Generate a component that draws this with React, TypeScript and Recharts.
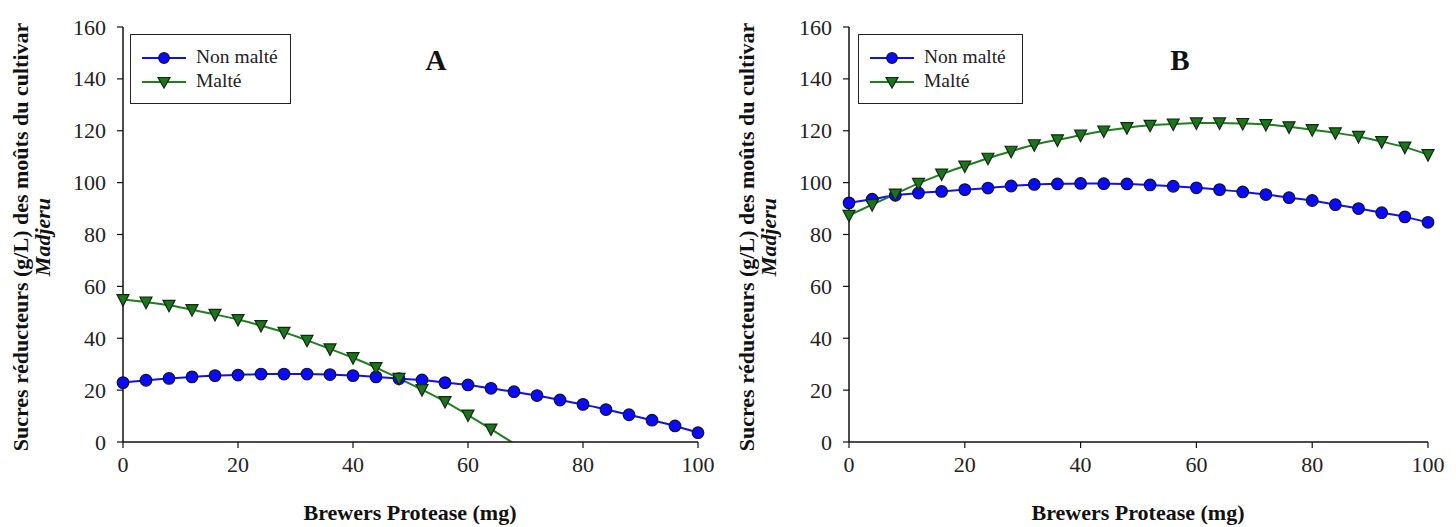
import React from "react";
import { LineChart, Line, XAxis, YAxis } from "recharts";

const doses = [0, 4, 8, 12, 16, 20, 24, 28, 32, 36, 40, 44, 48, 52, 56, 60, 64, 68, 72, 76, 80, 84, 88, 92, 96, 100];

const nonMalteA = [22.9, 23.8, 24.5, 25.1, 25.6, 25.8, 26.2, 26.2, 26.2, 26.0, 25.6, 25.1, 24.4, 23.9, 22.9, 22.0, 20.7, 19.4, 17.9, 16.2, 14.5, 12.5, 10.5, 8.4, 6.2, 3.6];
const malteA: (number | null)[] = [54.9, 53.9, 52.7, 51.0, 49.2, 47.2, 44.9, 42.3, 39.2, 35.9, 32.5, 28.7, 24.5, 20.2, 15.6, 10.4, 5.0, -0.6, null, null, null, null, null, null, null, null];

const nonMalteB = [92.2, 93.6, 95.1, 96.0, 96.6, 97.3, 97.9, 98.7, 99.3, 99.5, 99.7, 99.6, 99.5, 99.1, 98.6, 98.0, 97.3, 96.4, 95.4, 94.2, 93.1, 91.5, 90.0, 88.4, 86.8, 84.7];
const malteB = [87.4, 91.5, 95.6, 99.7, 103.3, 106.4, 109.4, 112.1, 114.6, 116.5, 118.3, 119.9, 121.2, 122.1, 122.6, 123.0, 123.0, 122.8, 122.4, 121.5, 120.4, 119.2, 117.8, 115.8, 113.7, 110.8];

const yTicks = [0, 20, 40, 60, 80, 100, 120, 140, 160];
const xTicks = [0, 20, 40, 60, 80, 100];

const seriesNames = ["Non malté", "Malté"];
const yLabelMain = "Sucres réducteurs (g/L) des moûts du cultivar";
const yLabelItalic = "Madjeru";
const xLabel = "Brewers Protease (mg)";

const BLUE_LINE = "#1010f0";
const BLUE_FILL = "#0a0aff";
const GREEN_LINE = "#1f7f1f";
const GREEN_FILL = "#1c741c";
const DARK = "#101010";
const FONT = "Liberation Serif";

const buildRows = (a: (number | null)[], b: (number | null)[]) =>
  doses.map((x, i) => ({ x, non: a[i], malte: b[i] }));

const CircleDot = (props: any) => {
  const { cx, cy, payload, index } = props;
  if (cx == null || cy == null || payload?.non == null) return <g key={`c${index}`} />;
  return <circle key={`c${index}`} cx={cx} cy={cy} r={5.8} fill={BLUE_FILL} stroke="#111133" strokeWidth={1.2} />;
};

const TriDot = (props: any) => {
  const { cx, cy, payload, index } = props;
  if (cx == null || cy == null || payload?.malte == null || payload.malte < 0) return <g key={`t${index}`} />;
  const w = 6;
  const h = 5.5;
  return (
    <path
      key={`t${index}`}
      d={`M${cx - w},${cy - h + 0.5} L${cx + w},${cy - h + 0.5} L${cx},${cy + h + 1} Z`}
      fill={GREEN_FILL}
      stroke="#0f2a0f"
      strokeWidth={1.2}
    />
  );
};

const XTick = (props: any) => {
  const { x, y, payload } = props;
  return (
    <text x={x} y={y + 20} textAnchor="middle" fontFamily={FONT} fontSize={22} fill="#222">
      {payload.value}
    </text>
  );
};

const YTick = (props: any) => {
  const { x, y, payload } = props;
  return (
    <text x={x} y={y + 7.5} textAnchor="end" fontFamily={FONT} fontSize={22} fill="#222">
      {payload.value}
    </text>
  );
};

const LegendBox = ({ left, top, width }: { left: number; top: number; width: number }) => (
  <div
    style={{
      position: "absolute",
      left,
      top,
      width,
      height: 70,
      border: "1.5px solid #222",
      boxSizing: "border-box",
      background: "#fff",
      fontFamily: FONT,
      fontSize: 19.5,
      color: "#222",
    }}
  >
    <svg width={60} height={70} style={{ position: "absolute", left: 0, top: 0 }}>
      <line x1={11} x2={55} y1={23} y2={23} stroke={BLUE_LINE} strokeWidth={2} />
      <circle cx={33} cy={23} r={5.3} fill={BLUE_FILL} stroke="#111133" strokeWidth={1.2} />
      <line x1={11} x2={55} y1={47} y2={47} stroke={GREEN_LINE} strokeWidth={2} />
      <path d="M27,42.5 L39,42.5 L33,53 Z" fill={GREEN_FILL} stroke="#0f2a0f" strokeWidth={1.2} />
    </svg>
    <div style={{ position: "absolute", left: 65, top: 11, lineHeight: "22px" }}>{seriesNames[0]}</div>
    <div style={{ position: "absolute", left: 65, top: 35, lineHeight: "22px" }}>{seriesNames[1]}</div>
  </div>
);

const YLabel = ({ cx, cy }: { cx: number; cy: number }) => (
  <div
    style={{
      position: "absolute",
      left: cx,
      top: cy,
      transform: "translate(-50%, -50%) rotate(-90deg)",
      whiteSpace: "nowrap",
      textAlign: "center",
      fontFamily: FONT,
      fontWeight: "bold",
      fontSize: 22,
      lineHeight: "22px",
      color: "#111",
    }}
  >
    <div>{yLabelMain}</div>
    <div style={{ fontStyle: "italic" }}>{yLabelItalic}</div>
  </div>
);

const Panel = ({
  left,
  rows,
  yAxisWidth,
  rightMargin,
  letter,
  letterX,
  legendLeft,
  legendWidth,
  labelCx,
  plotCenter,
}: any) => {
  return (
    <div style={{ position: "absolute", left, top: 0, width: 728, height: 527 }}>
      <LineChart
        width={728}
        height={527}
        data={rows}
        margin={{ top: 27, right: rightMargin, left: 0, bottom: 55 }}
      >
        <XAxis
          dataKey="x"
          type="number"
          domain={[0, 100]}
          ticks={xTicks}
          height={30}
          axisLine={{ stroke: DARK, strokeWidth: 1.5 }}
          tickLine={{ stroke: DARK, strokeWidth: 1.2 }}
          tickSize={6}
          tickMargin={4}
          tick={<XTick />}
          interval={0}
        />
        <YAxis
          type="number"
          domain={[0, 160]}
          ticks={yTicks}
          allowDataOverflow
          width={yAxisWidth}
          axisLine={{ stroke: DARK, strokeWidth: 1.5 }}
          tickLine={{ stroke: DARK, strokeWidth: 1.2 }}
          tickSize={6}
          tickMargin={11}
          tick={<YTick />}
          interval={0}
        />
        <Line
          type="monotone"
          dataKey="non"
          stroke={BLUE_LINE}
          strokeWidth={2}
          dot={CircleDot}
          isAnimationActive={false}
          connectNulls={false}
        />
        <Line
          type="monotone"
          dataKey="malte"
          stroke={GREEN_LINE}
          strokeWidth={2}
          dot={TriDot}
          isAnimationActive={false}
          connectNulls={false}
        />
      </LineChart>
      <LegendBox left={legendLeft} top={34} width={legendWidth} />
      <div
        style={{
          position: "absolute",
          left: letterX,
          top: 60,
          transform: "translate(-50%, -50%)",
          fontFamily: FONT,
          fontWeight: "bold",
          fontSize: 29,
          color: "#111",
        }}
      >
        {letter}
      </div>
      <YLabel cx={labelCx} cy={237} />
      <div
        style={{
          position: "absolute",
          left: plotCenter,
          top: 513,
          transform: "translate(-50%, -50%)",
          whiteSpace: "nowrap",
          fontFamily: FONT,
          fontWeight: "bold",
          fontSize: 22,
          color: "#111",
        }}
      >
        {xLabel}
      </div>
    </div>
  );
};

export default function App() {
  const rowsA = buildRows(nonMalteA, malteA);
  const rowsB = buildRows(nonMalteB, malteB);
  return (
    <div style={{ position: "absolute", left: 0, top: 0, width: 1456, height: 527, background: "#fff", overflow: "hidden" }}>
      <Panel
        left={0}
        rows={rowsA}
        yAxisWidth={123}
        rightMargin={30}
        letter="A"
        letterX={436}
        legendLeft={130}
        legendWidth={161}
        labelCx={32}
        plotCenter={410}
      />
      <Panel
        left={728}
        rows={rowsB}
        yAxisWidth={121}
        rightMargin={28}
        letter="B"
        letterX={452}
        legendLeft={130}
        legendWidth={165}
        labelCx={30}
        plotCenter={410}
      />
    </div>
  );
}
